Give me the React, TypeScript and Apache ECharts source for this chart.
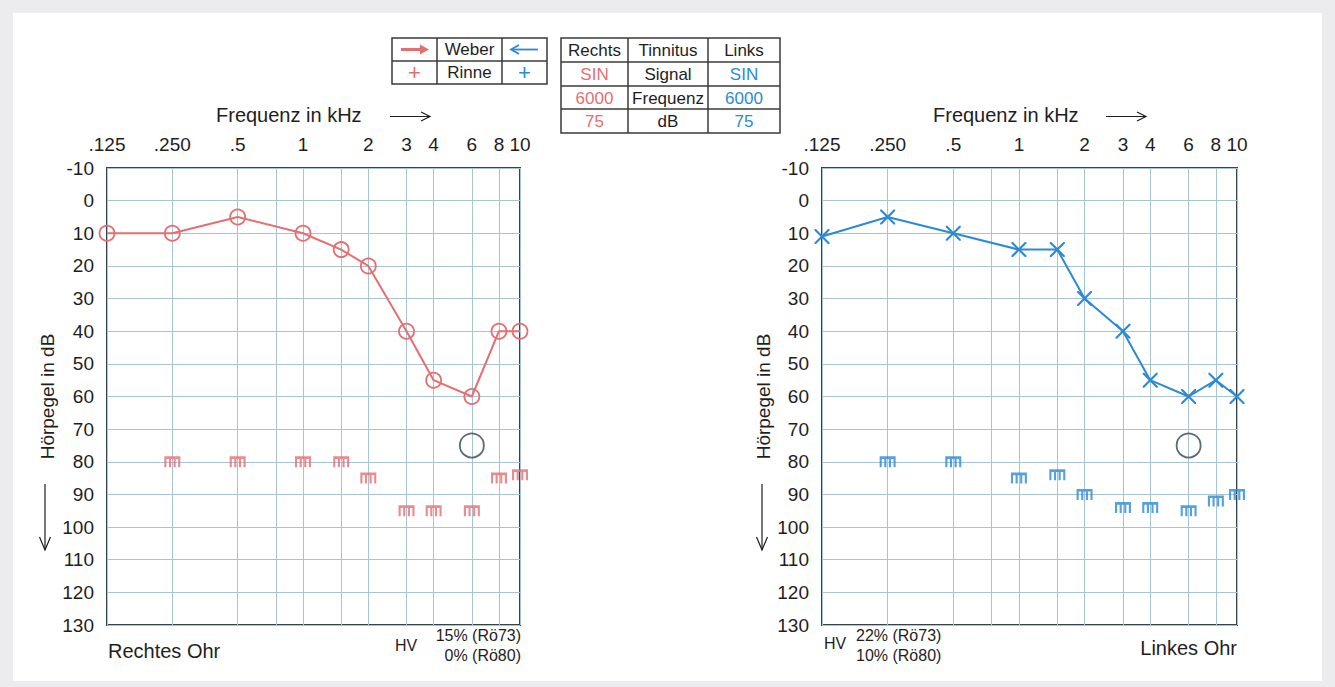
import React, { useEffect, useRef } from "react";
import * as echarts from "echarts";

// ---------- data ----------
const FREQS = [125, 250, 500, 1000, 1500, 2000, 3000, 4000, 6000, 8000, 10000];
const RIGHT_EAR_AIR = [10, 10, 5, 10, 15, 20, 40, 55, 60, 40, 40];
const LEFT_EAR_AIR = [11, 5, 10, 15, 15, 30, 40, 55, 60, 55, 60];

const BONE_FREQS = [250, 500, 1000, 1500, 2000, 3000, 4000, 6000, 8000, 10000];
const RIGHT_EAR_BONE = [80, 80, 80, 80, 85, 95, 95, 95, 85, 84];
const LEFT_EAR_BONE = [80, 80, 85, 84, 90, 94, 94, 95, 92, 90];

const TINNITUS_FREQ = 6000;
const TINNITUS_DB = 75;

const LABEL_FREQS = [125, 250, 500, 1000, 2000, 3000, 4000, 6000, 8000, 10000];
const LABEL_TEXTS = [".125", ".250", ".5", "1", "2", "3", "4", "6", "8", "10"];
const GRID_FREQS = [125, 250, 500, 750, 1000, 1500, 2000, 3000, 4000, 6000, 8000, 10000];

const Y_MIN = -10;
const Y_MAX = 130;
const Y_STEP = 10;

const TINNITUS_TABLE = [
  ["Rechts", "Tinnitus", "Links"],
  ["SIN", "Signal", "SIN"],
  ["6000", "Frequenz", "6000"],
  ["75", "dB", "75"],
];
const HV_RIGHT = ["15% (Rö73)", "0% (Rö80)"];
const HV_LEFT = ["22% (Rö73)", "10% (Rö80)"];

// ---------- styles ----------
const RED = "#e46f70";
const BLUE = "#2b8ad4";
const DARK = "#1e1e1e";
const BORDER = "#34444d";
const GRIDLINE = "#a8c4d4";
const FONT = "'Liberation Sans', Arial, sans-serif";

const lg = (f: number) => Math.log10(f);

const BONE_SYMBOL =
  "path://M0 0H18V2.4H0Z M0 0H2.4V10H0Z M5.2 0H7.6V10H5.2Z M10.4 0H12.8V10H10.4Z M15.6 0H18V10H15.6Z";
const X_SYMBOL =
  "path://M0 0L2 0L10 8L18 0L20 0L20 2L12 10L20 18L20 20L18 20L10 12L2 20L0 20L0 18L8 10L0 2Z";

function xAxisCfg(gridIndex: number) {
  return {
    type: "value",
    gridIndex,
    position: "top",
    min: lg(125),
    max: lg(10000),
    axisLine: { show: false },
    axisTick: { show: false, customValues: GRID_FREQS.map(lg) },
    axisLabel: {
      customValues: LABEL_FREQS.map(lg),
      formatter: (v: number) => {
        const i = LABEL_FREQS.findIndex((f) => Math.abs(lg(f) - v) < 1e-6);
        return i >= 0 ? LABEL_TEXTS[i] : "";
      },
      fontSize: 19,
      color: DARK,
      fontFamily: FONT,
      margin: 14,
    },
    splitLine: { show: true, lineStyle: { color: GRIDLINE, width: 1 } },
  };
}

function yAxisCfg(gridIndex: number, nameGap: number) {
  return {
    type: "value",
    gridIndex,
    inverse: true,
    min: Y_MIN,
    max: Y_MAX,
    interval: Y_STEP,
    name: "Hörpegel in dB",
    nameLocation: "middle",
    nameRotate: 90,
    nameGap,
    nameTextStyle: { fontSize: 19, color: DARK, fontFamily: FONT },
    axisLine: { show: false },
    axisTick: { show: false },
    axisLabel: { fontSize: 19, color: DARK, fontFamily: FONT, margin: 13 },
    splitLine: { show: true, lineStyle: { color: GRIDLINE, width: 1 } },
  };
}

function txt(x: number, y: number, text: string, opts: any = {}) {
  return {
    type: "text",
    x,
    y,
    style: {
      text,
      fill: opts.fill || DARK,
      fontSize: opts.fontSize || 17,
      fontFamily: FONT,
      fontWeight: opts.fontWeight || "normal",
      align: opts.align || "left",
      verticalAlign: "middle",
    },
  };
}

function line(x1: number, y1: number, x2: number, y2: number, stroke: string, w = 1.5) {
  return { type: "line", shape: { x1, y1, x2, y2 }, style: { stroke, lineWidth: w } };
}

function poly(points: number[][], stroke: string, w = 1.5) {
  return { type: "polyline", shape: { points }, style: { stroke, lineWidth: w, fill: null } };
}

function buildGraphics() {
  const g: any[] = [];
  const TB = "#3a3a3a";
  // Weber / Rinne table
  g.push({ type: "rect", shape: { x: 392, y: 38, width: 155, height: 46 }, style: { fill: "#fff", stroke: TB, lineWidth: 1.5 } });
  g.push(line(392, 61, 547, 61, TB));
  g.push(line(437, 38, 437, 84, TB));
  g.push(line(502, 38, 502, 84, TB));
  g.push(line(401, 49.5, 425, 49.5, RED, 3));
  g.push({ type: "polygon", shape: { points: [[420, 44.5], [429, 49.5], [420, 54.5]] }, style: { fill: RED } });
  g.push(txt(469.5, 49.5, "Weber", { align: "center" }));
  g.push(line(512, 49.5, 538, 49.5, BLUE, 1.8));
  g.push(poly([[519, 45], [511, 49.5], [519, 54]], BLUE, 1.8));
  g.push(txt(414.5, 72.5, "+", { align: "center", fill: RED, fontSize: 22 }));
  g.push(txt(469.5, 72.5, "Rinne", { align: "center" }));
  g.push(txt(524.5, 72.5, "+", { align: "center", fill: BLUE, fontSize: 22 }));

  // Tinnitus table
  const tx = [561, 628, 708, 780];
  const ty = [38, 62, 86, 109, 133];
  g.push({ type: "rect", shape: { x: 561, y: 38, width: 219, height: 95 }, style: { fill: "#fff", stroke: TB, lineWidth: 1.5 } });
  for (let i = 1; i < 4; i++) g.push(line(561, ty[i], 780, ty[i], TB));
  g.push(line(628, 38, 628, 133, TB));
  g.push(line(708, 38, 708, 133, TB));
  TINNITUS_TABLE.forEach((row, r) => {
    row.forEach((cell, c) => {
      const cx = (tx[c] + tx[c + 1]) / 2;
      const cy = (ty[r] + ty[r + 1]) / 2 + 0.5;
      let fill = DARK;
      if (r > 0 && c === 0) fill = RED;
      if (r > 0 && c === 2) fill = BLUE;
      g.push(txt(cx, cy, cell, { align: "center", fill }));
    });
  });

  // Frequenz headers
  g.push(txt(216, 115, "Frequenz in kHz", { fontSize: 20 }));
  g.push(line(390, 116.5, 430, 116.5, DARK, 1.2));
  g.push(poly([[421, 112], [430, 116.5], [421, 121]], DARK, 1.2));
  g.push(txt(933, 115, "Frequenz in kHz", { fontSize: 20 }));
  g.push(line(1106, 116.5, 1146, 116.5, DARK, 1.2));
  g.push(poly([[1137, 112], [1146, 116.5], [1137, 121]], DARK, 1.2));

  // down arrows
  g.push(line(45, 484, 45, 550, DARK, 1.2));
  g.push(poly([[39.5, 537], [45, 550], [50.5, 537]], DARK, 1.2));
  g.push(line(762, 484, 762, 550, DARK, 1.2));
  g.push(poly([[756.5, 537], [762, 550], [767.5, 537]], DARK, 1.2));

  // bottom texts
  g.push(txt(108, 651, "Rechtes Ohr", { fontSize: 20 }));
  g.push(txt(395, 645, "HV", { fontSize: 16 }));
  g.push(txt(521, 635, HV_RIGHT[0], { fontSize: 16, align: "right" }));
  g.push(txt(521, 655, HV_RIGHT[1], { fontSize: 16, align: "right" }));
  g.push(txt(824, 643, "HV", { fontSize: 16 }));
  g.push(txt(856, 635, HV_LEFT[0], { fontSize: 16 }));
  g.push(txt(856, 655, HV_LEFT[1], { fontSize: 16 }));
  g.push(txt(1237, 648, "Linkes Ohr", { fontSize: 20, align: "right" }));
  return g;
}

function earSeries(gridIdx: number, air: number[], bone: number[], color: string, airSymbol: string, airSize: number, airFill: string) {
  return [
    {
      type: "line",
      xAxisIndex: gridIdx,
      yAxisIndex: gridIdx,
      data: FREQS.map((f, i) => [lg(f), air[i]]),
      symbol: airSymbol,
      symbolSize: airSize,
      clip: false,
      lineStyle: { color, width: 2 },
      itemStyle: { color: airFill, borderColor: color, borderWidth: airSymbol === "circle" ? 1.8 : 0 },
      z: 4,
    },
    {
      type: "scatter",
      xAxisIndex: gridIdx,
      yAxisIndex: gridIdx,
      data: BONE_FREQS.map((f, i) => [lg(f), bone[i]]),
      symbol: BONE_SYMBOL,
      symbolSize: [16, 11],
      clip: false,
      itemStyle: { color },
      z: 3,
    },
    {
      type: "scatter",
      xAxisIndex: gridIdx,
      yAxisIndex: gridIdx,
      data: [[lg(TINNITUS_FREQ), TINNITUS_DB]],
      symbol: "circle",
      symbolSize: 24,
      clip: false,
      itemStyle: { color: "rgba(0,0,0,0)", borderColor: "#2d4753", borderWidth: 1.8 },
      z: 3,
    },
  ];
}

export default function App() {
  const ref = useRef<HTMLDivElement>(null);
  useEffect(() => {
    if (!ref.current) return;
    const chart = echarts.init(ref.current, undefined, { renderer: "svg" });
    chart.setOption({
      animation: false,
      backgroundColor: "transparent",
      textStyle: { fontFamily: FONT },
      grid: [
        { left: 107, top: 168, width: 413, height: 457, show: true, borderColor: BORDER, borderWidth: 2, backgroundColor: "transparent" },
        { left: 822, top: 168, width: 415, height: 457, show: true, borderColor: BORDER, borderWidth: 2, backgroundColor: "transparent" },
      ],
      xAxis: [xAxisCfg(0), xAxisCfg(1)],
      yAxis: [yAxisCfg(0, 50), yAxisCfg(1, 49)],
      series: [
        ...earSeries(0, RIGHT_EAR_AIR, RIGHT_EAR_BONE, RED, "circle", 15, "rgba(0,0,0,0)"),
        ...earSeries(1, LEFT_EAR_AIR, LEFT_EAR_BONE, BLUE, X_SYMBOL, 15, BLUE),
      ],
      graphic: buildGraphics(),
    });
    return () => chart.dispose();
  }, []);
  return (
    <div style={{ position: "fixed", left: 0, top: 0, width: 1335, height: 687, background: "#ececee" }}>
      <div style={{ position: "absolute", left: 13, top: 13, width: 1309, height: 668, background: "#ffffff" }} />
      <div ref={ref} style={{ position: "absolute", left: 0, top: 0, width: 1335, height: 687 }} />
    </div>
  );
}
